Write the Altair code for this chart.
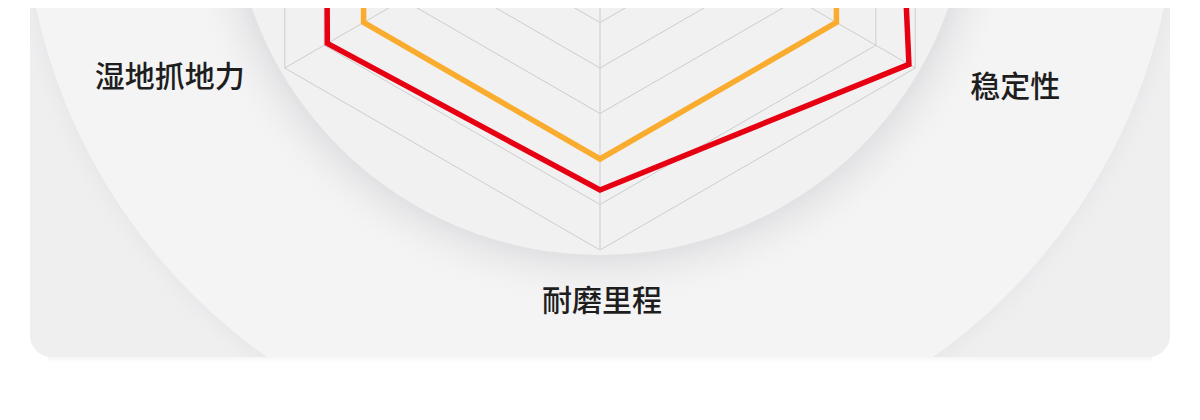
import math
import altair as alt
import pandas as pd

# ---------------- data ----------------
axis_names = ["静音舒适", "干地操控", "稳定性", "耐磨里程", "湿地抓地力", "节油性能"]
series_names = ["本品", "竞品"]
red_values = [90, 93, 98, 83.5, 86.5, 87]
orange_values = [78, 75, 75, 75, 75, 75]
grid_levels = [12.5, 25, 37.5, 50, 62.5, 75, 87.5, 100]

# ---------------- layout constants ----------------
PAGE = 8            # body margin of the page
W, H = 1184, 404    # plot area
CX, CY = 600, -114  # radar centre in screen pixels
PX = 3.64           # pixels per value unit (100 -> 364 px)
LABEL_R = 113
CARD_L, CARD_R, CARD_B = 30, 1170, 357

x_dom = [(PAGE - CX) / PX, (PAGE + W - CX) / PX]
y_dom = [(CY - PAGE - H) / PX, (CY - PAGE) / PX]
xs = alt.Scale(domain=x_dom, nice=False, zero=False)
ys = alt.Scale(domain=y_dom, nice=False, zero=False)

N = len(axis_names)
ANG = f"datum.k * 2 * PI / {N}"

grid_df = pd.DataFrame(
    [{"level": lv, "k": k, "v": lv} for lv in grid_levels for k in range(N + 1)]
)
spoke_df = pd.DataFrame([{"k": k, "v": grid_levels[-1]} for k in range(N)])
series_rows = []
for name, vals in zip(series_names, [red_values, orange_values]):
    for k in range(N + 1):
        series_rows.append({"series": name, "k": k, "v": vals[k % N]})
series_df = pd.DataFrame(series_rows)
label_df = pd.DataFrame([{"k": k, "name": n} for k, n in enumerate(axis_names)])
one = pd.DataFrame([{"a": 1}])


def polar(ch):
    return ch.transform_calculate(
        x=f"datum.v * sin({ANG})", y=f"datum.v * cos({ANG})"
    )


X = alt.X("x:Q", scale=xs, axis=None)
Y = alt.Y("y:Q", scale=ys, axis=None)


def rect(x1, x2, y1, y2, **kw):
    return alt.Chart(one).mark_rect(**kw).encode(
        x=alt.value(x1 - PAGE), x2=alt.value(x2 - PAGE),
        y=alt.value(y1 - PAGE), y2=alt.value(y2 - PAGE),
    )


# ---------------- background ----------------
card = rect(CARD_L, CARD_R, -60, CARD_B, cornerRadius=22, color="#efeff0")

R_OUT, R_IN = 577, 369


def ring_shadow(r_inner, width, col, fade):
    rr = r_inner + width
    return alt.Chart(one).mark_arc(
        radius=rr, theta=0, theta2=2 * math.pi,
        fill={
            "gradient": "radial",
            "x1": 0.5, "y1": 0.5, "r1": 0,
            "x2": 0.5, "y2": 0.5, "r2": 0.5,
            "stops": [
                {"offset": 0, "color": col},
                {"offset": r_inner / rr, "color": col},
                {"offset": 1, "color": fade},
            ],
        },
    ).encode(x=alt.value(CX - PAGE), y=alt.value(CY - PAGE))


def disc(r, col):
    return alt.Chart(one).mark_arc(
        radius=r, theta=0, theta2=2 * math.pi, fill=col
    ).encode(x=alt.value(CX - PAGE), y=alt.value(CY - PAGE))


outer_shadow = ring_shadow(R_OUT, 26, "#e9e9eb", "rgba(239,239,240,0)")
outer_circle = disc(R_OUT, "#f4f4f5")
inner_shadow = ring_shadow(R_IN, 55, "#e1e1e3", "rgba(244,244,245,0)")
inner_circle = disc(R_IN, "#f1f1f2")

# white page outside the card (keeps the circles inside it)
mask_bottom = rect(0, 1220, CARD_B, 440, color="white")
mask_left = rect(0, CARD_L, -60, CARD_B, color="white")
mask_right = rect(CARD_R, 1220, -60, CARD_B, color="white")
corner_l = rect(CARD_L, CARD_L + 60, CARD_B - 60, CARD_B, cornerRadius=22, color="#efeff0")
corner_r = rect(CARD_R - 60, CARD_R, CARD_B - 60, CARD_B, cornerRadius=22, color="#efeff0")
card_fade = alt.Chart(one).mark_rect(
    color={
        "gradient": "linear", "x1": 0, "y1": 0, "x2": 0, "y2": 1,
        "stops": [
            {"offset": 0, "color": "rgba(238,238,240,0.6)"},
            {"offset": 1, "color": "rgba(255,255,255,0)"},
        ],
    }
).encode(
    x=alt.value(CARD_L + 18 - PAGE), x2=alt.value(CARD_R - 18 - PAGE),
    y=alt.value(CARD_B - PAGE), y2=alt.value(CARD_B + 8 - PAGE),
)

# ---------------- radar ----------------
grid = polar(alt.Chart(grid_df)).mark_line(
    color="#cdcdd0", strokeWidth=1
).encode(x=X, y=Y, detail="level:N", order="k:Q")

spokes = polar(alt.Chart(spoke_df)).transform_calculate(
    x0="0", y0="0"
).mark_rule(color="#cdcdd0", strokeWidth=1).encode(
    x=alt.X("x0:Q", scale=xs, axis=None),
    y=alt.Y("y0:Q", scale=ys, axis=None),
    x2="x:Q", y2="y:Q",
)

lines = polar(alt.Chart(series_df)).mark_line(
    strokeWidth=5.5, strokeJoin="miter"
).encode(
    x=X, y=Y, order="k:Q",
    color=alt.Color(
        "series:N",
        scale=alt.Scale(domain=series_names, range=["#e60012", "#f9ac2d"]),
        legend=None,
    ),
)


def label_layer(filter_expr, align, dx, dy):
    return alt.Chart(label_df).transform_calculate(
        x=f"{LABEL_R} * sin({ANG})", y=f"{LABEL_R} * cos({ANG})"
    ).transform_filter(
        f"datum.y < {y_dom[1]} && datum.y > {y_dom[0]}"
    ).transform_filter(filter_expr).mark_text(
        align=align, baseline="middle", dx=dx, dy=dy,
        font="Noto Sans CJK SC", fontSize=30, fontWeight=500, color="#1e1e1e",
    ).encode(x=X, y=Y, text="name:N")


labels_left = label_layer("datum.x < -1", "right", 1, -14)
labels_right = label_layer("datum.x > 1", "left", 14, -4)
labels_mid = label_layer("abs(datum.x) <= 1", "center", 2, 5)

chart = alt.layer(
    card, outer_shadow, outer_circle, inner_shadow, inner_circle,
    mask_bottom, mask_left, mask_right, corner_l, corner_r, card_fade,
    grid, spokes, lines, labels_left, labels_right, labels_mid,
).properties(
    width=W, height=H, padding=0, background="white",
    autosize=alt.AutoSizeParams(type="none"),
).configure_view(strokeWidth=0)

chart.save("out.html", embed_options={"renderer": "svg", "actions": False})
